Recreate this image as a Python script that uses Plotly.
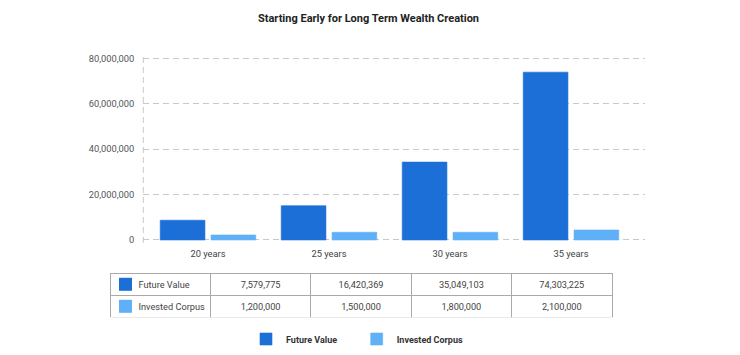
import plotly.graph_objects as go

# ---- data ----
categories = ["20 years", "25 years", "30 years", "35 years"]
future_value_bars = [8.7e6, 15.1e6, 34.3e6, 73.9e6]      # bar heights
invested_corpus_bars = [2.2e6, 3.4e6, 3.4e6, 4.4e6]
series_names = ["Future Value", "Invested Corpus"]
future_value_table = ["7,579,775", "16,420,369", "35,049,103", "74,303,225"]
invested_corpus_table = ["1,200,000", "1,500,000", "1,800,000", "2,100,000"]
y_ticks = [0, 20e6, 40e6, 60e6, 80e6]
y_tick_labels = ["0", "20,000,000", "40,000,000", "60,000,000", "80,000,000"]

# ---- style ----
W, H = 740, 355
FV_COLOR = "#1c6fd7"
IC_COLOR = "#60b0f7"
FONT = "Roboto"
GRID = "#c8c8c8"
DASH = "6px,4px"

fig = go.Figure()
fig.add_trace(go.Bar(x=categories, y=future_value_bars, name=series_names[0],
                     marker=dict(color=FV_COLOR, line=dict(width=0.6, color=FV_COLOR)),
                     legend="legend"))
fig.add_trace(go.Bar(x=categories, y=invested_corpus_bars, name=series_names[1],
                     marker=dict(color=IC_COLOR, line=dict(width=0.6, color=IC_COLOR)),
                     legend="legend2"))

# table (first data row is used as the table "header" row, styled like a cell)
tbl_x0, tbl_x1 = 110 / W, 612.3 / W
tbl_top, row_h = 273.3, 22
tbl_y1 = 1 - tbl_top / H
tbl_y0 = 1 - (tbl_top + 2 * row_h) / H
pad = "\u00a0" * 9
row1 = [pad + series_names[0].replace(" ", "\u00a0")] + future_value_table
row2 = [pad + series_names[1].replace(" ", "\u00a0")] + invested_corpus_table
cell_font = dict(family=FONT, size=9.2, color="#444444")
aligns = ["left", "center", "center", "center", "center"]
fig.add_trace(go.Table(
    domain=dict(x=[tbl_x0, tbl_x1], y=[tbl_y0, tbl_y1]),
    columnwidth=[1, 1, 1, 1, 1],
    header=dict(values=row1, height=row_h, align=aligns,
                line=dict(color="#aaaaaa", width=1), fill=dict(color="rgba(0,0,0,0)"),
                font=cell_font),
    cells=dict(values=[[v] for v in row2], height=row_h, align=aligns,
               line=dict(color="#aaaaaa", width=1), fill=dict(color="rgba(0,0,0,0)"),
               font=cell_font),
))

# swatches inside table
shapes = []
for k, col in enumerate([FV_COLOR, IC_COLOR]):
    cy = tbl_top + row_h * k + row_h / 2
    shapes.append(dict(type="rect", xref="paper", yref="paper",
                       x0=(tbl_x0 * W + 9) / W, x1=(tbl_x0 * W + 22) / W,
                       y0=1 - (cy + 6.5) / H, y1=1 - (cy - 6.5) / H,
                       fillcolor=col, line=dict(width=0), layer="above"))
# dashed left axis line
shapes.append(dict(type="line", xref="x domain", yref="y domain", x0=0, x1=0, y0=0, y1=1,
                   line=dict(color=GRID, width=1, dash=DASH), layer="below"))

x_left, x_right = 143.3, 645
cat_c0, cat_step = 208, 121
y_zero_px, y_80_px = 240, 58.3
y_lo_val, y_hi_val = -1.3e6, 81.3e6
px_per_val = (y_zero_px - y_80_px) / 80e6
y_top_px = y_zero_px - y_hi_val * px_per_val
y_bot_px = y_zero_px - y_lo_val * px_per_val
leg_font = dict(family=FONT, size=9, color="#333333", weight="bold")
fig.update_layout(
    width=W, height=H,
    margin=dict(l=0, r=0, t=0, b=0, pad=0, autoexpand=False),
    paper_bgcolor="white", plot_bgcolor="white",
    font=dict(family=FONT, size=9, color="#555555"),
    title=dict(text="<b>Starting Early for Long Term Wealth Creation</b>",
               x=368.5 / W, xanchor="center", y=1 - 18.3 / H, yanchor="middle",
               yref="container", font=dict(family=FONT, size=11, color="#222222")),
    barmode="group", bargap=0.16, bargroupgap=0.12,
    xaxis=dict(domain=[x_left / W, x_right / W], automargin=False,
               range=[(x_left - cat_c0) / cat_step, (x_right - cat_c0) / cat_step],
               showgrid=False, showline=False, zeroline=False, ticks="",
               tickfont=dict(size=9.3, color="#444444"), ticklabelstandoff=4),
    yaxis=dict(domain=[1 - y_bot_px / H, 1 - y_top_px / H], range=[y_lo_val, y_hi_val],
               automargin=False, tickvals=y_ticks, ticktext=y_tick_labels,
               showgrid=True, gridcolor=GRID, gridwidth=1, griddash=DASH,
               zeroline=False, showline=False, ticks="",
               tickfont=dict(size=9.3, color="#555555"), ticklabelstandoff=8),
    legend=dict(orientation="h", x=(260 - 14) / W, xanchor="left", y=1 - 339 / H,
                yanchor="middle", font=leg_font, bgcolor="rgba(0,0,0,0)"),
    legend2=dict(orientation="h", x=(370.7 - 14) / W, xanchor="left", y=1 - 339 / H,
                 yanchor="middle", font=leg_font, bgcolor="rgba(0,0,0,0)"),
    shapes=shapes,
    showlegend=True,
)

fig.write_html("out.html", config={"displayModeBar": False},
               post_script="document.body.style.margin='0';document.body.style.overflow='hidden';")
